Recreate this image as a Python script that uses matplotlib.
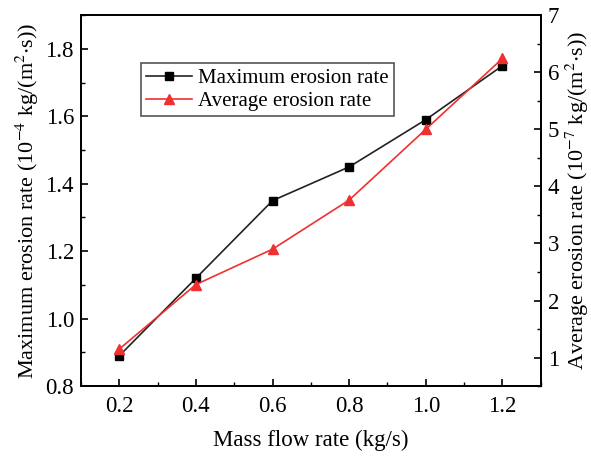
import matplotlib
matplotlib.use('Agg')
import matplotlib.pyplot as plt
from matplotlib.ticker import MultipleLocator

plt.rcParams['font.family'] = ['Liberation Serif', 'DejaVu Serif']
plt.rcParams['mathtext.fontset'] = 'stix'

flow = [0.2, 0.4, 0.6, 0.8, 1.0, 1.2]
max_rate = [0.89, 1.12, 1.35, 1.45, 1.59, 1.75]
avg_rate = [1.15, 2.28, 2.90, 3.76, 5.00, 6.24]

FS = 16.5

fig = plt.figure(figsize=(5.91, 4.57), dpi=100)
ax = fig.add_axes([0.137, 0.155, 0.778, 0.812])
ax2 = ax.twinx()

l1, = ax.plot(flow, max_rate, color='#222222', lw=1.2, marker='s', markersize=6,
              markerfacecolor='k', markeredgecolor='k', label='Maximum erosion rate')
l2, = ax2.plot(flow, avg_rate, color='#f03030', lw=1.2, marker='^', markersize=7,
               markerfacecolor='#f03030', markeredgecolor='#f03030', label='Average erosion rate')

ax.set_xlim(0.1, 1.3)
ax.set_ylim(0.8, 1.9)
ax2.set_ylim(0.5, 7)

ax.xaxis.set_major_locator(MultipleLocator(0.2))
ax.xaxis.set_minor_locator(MultipleLocator(0.1))
ax.yaxis.set_major_locator(MultipleLocator(0.2))
ax.yaxis.set_minor_locator(MultipleLocator(0.1))
ax2.yaxis.set_major_locator(MultipleLocator(1))
ax2.yaxis.set_minor_locator(MultipleLocator(0.5))
ax.set_xticks([0.2, 0.4, 0.6, 0.8, 1.0, 1.2])
ax.set_xticklabels(['0.2', '0.4', '0.6', '0.8', '1.0', '1.2'])

for a in (ax, ax2):
    a.tick_params(which='major', direction='in', length=5, width=1.2, labelsize=FS)
    a.tick_params(which='minor', direction='in', length=3, width=1.0)
    for s in a.spines.values():
        s.set_linewidth(1.3)
ax.tick_params(axis='x', pad=7)
ax.tick_params(axis='y', pad=5)
ax2.tick_params(axis='y', pad=5)

ax.set_xlabel('Mass flow rate (kg/s)', fontsize=FS, labelpad=9)
ax.set_ylabel('Maximum erosion rate (10$^{-4}$ kg/(m$^{2}$$\\cdot$s))', fontsize=16, labelpad=3)
ax2.set_ylabel('Average erosion rate (10$^{-7}$ kg/(m$^{2}$$\\cdot$s))', fontsize=16, labelpad=3)

leg = ax.legend([l1, l2], ['Maximum erosion rate', 'Average erosion rate'],
                loc='upper left', bbox_to_anchor=(0.13, 0.87), fontsize=15,
                fancybox=False, edgecolor='#555555', framealpha=1,
                handlelength=2.2, handletextpad=0.3, borderpad=0.25,
                labelspacing=0.15, borderaxespad=0)
leg.get_frame().set_linewidth(1.2)

fig.savefig('out.png', dpi=100)
